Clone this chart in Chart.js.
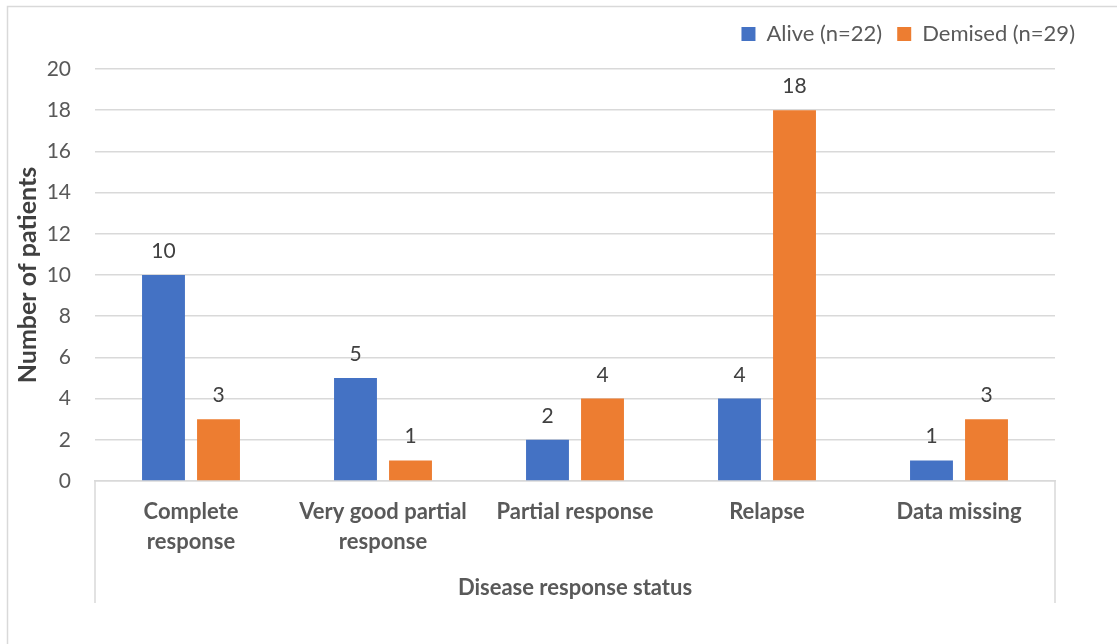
<!DOCTYPE html>
<html>
<head>
<meta charset="utf-8">
<script src="https://cdn.jsdelivr.net/npm/chart.js@4/dist/chart.umd.min.js"></script>
<style>
  html, body { margin: 0; padding: 0; background: #ffffff; }
  #wrap { position: relative; width: 1117px; height: 644px; }
</style>
</head>
<body>
<div id="wrap"><canvas id="c" width="1117" height="644"></canvas></div>
<script>
// Chart data
const categories = [['Complete', 'response'], ['Very good partial', 'response'], 'Partial response', 'Relapse', 'Data missing'];
const aliveCounts = [10, 5, 2, 4, 1];
const demisedCounts = [3, 1, 4, 18, 3];
const seriesNames = ['Alive (n=22)', 'Demised (n=29)'];
const yTickValues = [0, 2, 4, 6, 8, 10, 12, 14, 16, 18, 20];
const yAxisTitle = 'Number of patients';
const xAxisTitle = 'Disease response status';

const FONT = 'Lato, "Open Sans", sans-serif';
const GRID = '#d9d9d9';
const TEXT = '#595959';

// Outer frame and the category-group side rules under the axis
const framePlugin = {
  id: 'frame',
  beforeDraw(chart) {
    const ctx = chart.ctx;
    ctx.save();
    ctx.strokeStyle = GRID;
    ctx.lineWidth = 1.5;
    ctx.beginPath();
    ctx.moveTo(7.5, chart.height);
    ctx.lineTo(7.5, 6.5);
    ctx.lineTo(chart.width, 6.5);
    ctx.stroke();
    ctx.restore();
  },
  afterDraw(chart) {
    const { ctx, chartArea } = chart;
    const xs = chart.scales.x;
    ctx.save();
    ctx.strokeStyle = GRID;
    ctx.lineWidth = 1.5;
    ctx.beginPath();
    [chartArea.left, chartArea.right].forEach(x => {
      ctx.moveTo(x, chartArea.bottom);
      ctx.lineTo(x, xs.bottom - 2);
    });
    ctx.stroke();
    ctx.restore();
  }
};

// Extra space between the legend and the plot
const legendGap = {
  id: 'legendGap',
  beforeInit(chart) {
    const legend = chart.legend;
    const fit = legend.fit;
    legend.fit = function () {
      fit.call(this);
      this.height += 14;
    };
  }
};

// Value labels above every bar
const valueLabels = {
  id: 'valueLabels',
  afterDatasetsDraw(chart) {
    const ctx = chart.ctx;
    ctx.save();
    ctx.font = '21px ' + FONT;
    ctx.fillStyle = '#404040';
    ctx.textAlign = 'center';
    ctx.textBaseline = 'alphabetic';
    chart.data.datasets.forEach((ds, i) => {
      chart.getDatasetMeta(i).data.forEach((bar, j) => {
        ctx.fillText(String(ds.data[j]), bar.x, bar.y - 17);
      });
    });
    ctx.restore();
  }
};

new Chart(document.getElementById('c'), {
  type: 'bar',
  data: {
    labels: categories,
    datasets: [
      { label: seriesNames[0], data: aliveCounts, backgroundColor: '#4472C4', categoryPercentage: 0.573, barPercentage: 0.78 },
      { label: seriesNames[1], data: demisedCounts, backgroundColor: '#ED7D31', categoryPercentage: 0.573, barPercentage: 0.78 }
    ]
  },
  options: {
    responsive: false,
    devicePixelRatio: 1,
    animation: false,
    layout: { padding: { left: 10, right: 27, top: 8, bottom: 39 } },
    plugins: {
      tooltip: { enabled: false },
      legend: {
        position: 'top',
        align: 'end',
        labels: {
          boxWidth: 14,
          boxHeight: 14,
          padding: 15,
          color: TEXT,
          font: { family: FONT, size: 22 }
        }
      }
    },
    scales: {
      x: {
        grid: { display: false, drawTicks: false },
        border: { display: true, color: GRID, width: 1.5 },
        ticks: {
          color: TEXT,
          font: { family: FONT, size: 22, weight: 'bold', lineHeight: 1.36 },
          padding: 16,
          maxRotation: 0,
          autoSkip: false
        },
        title: {
          display: true,
          text: xAxisTitle,
          color: TEXT,
          font: { family: FONT, size: 22, weight: 'bold' },
          padding: { top: 4, bottom: 4 }
        },
        afterFit(s) { s.height = 124; }
      },
      y: {
        min: 0,
        max: 20,
        afterBuildTicks(s) { s.ticks = yTickValues.map(v => ({ value: v })); },
        grid: { color: GRID, lineWidth: 1.5, drawTicks: false },
        border: { display: false },
        ticks: {
          color: TEXT,
          font: { family: FONT, size: 21 },
          padding: 24
        },
        title: {
          display: true,
          text: yAxisTitle,
          color: '#404040',
          font: { family: FONT, size: 25, weight: 'bold' },
          padding: { top: 3, bottom: 0 }
        },
        afterFit(s) { s.width = 85; }
      },
      rightGap: {
        type: 'linear',
        position: 'right',
        display: true,
        grid: { display: false },
        border: { display: false },
        ticks: { display: false },
        afterFit(s) { s.width = 35; }
      }
    }
  },
  plugins: [legendGap, framePlugin, valueLabels]
});
</script>
</body>
</html>
